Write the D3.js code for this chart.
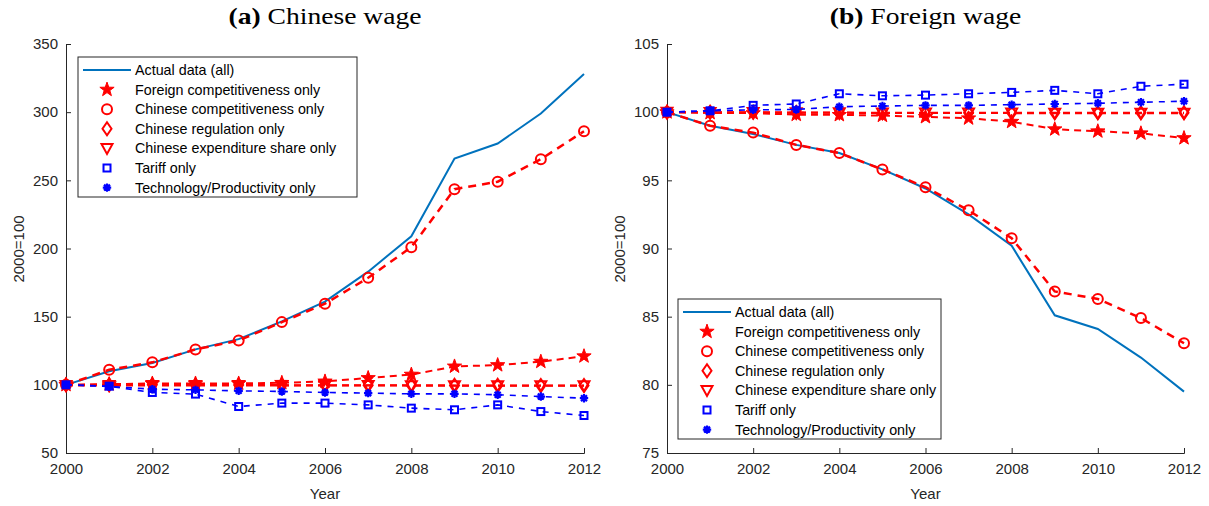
<!DOCTYPE html>
<html>
<head>
<meta charset="utf-8">
<script src="https://cdn.jsdelivr.net/npm/d3@7"></script>
<style>
  body { margin: 0; background: #fff; }
  svg { display: block; }
  .tick text { font-family: "Liberation Sans", Arial, sans-serif; font-size: 15px; fill: #262626; }
  .domain, .tick line { stroke: #262626; }
</style>
</head>
<body>
<div class="chart"></div>
<script>
// data
var years = [2000, 2001, 2002, 2003, 2004, 2005, 2006, 2007, 2008, 2009, 2010, 2011, 2012];
var labels = ["Actual data (all)", "Foreign competitiveness only", "Chinese competitiveness only",
  "Chinese regulation only", "Chinese expenditure share only", "Tariff only", "Technology/Productivity only"];

// (a) Chinese wage
var cnActual   = [100, 110, 116, 126, 133.5, 146.5, 161, 183, 209, 266, 277, 299, 328];
var cnForeign  = [100, 100.5, 101, 101, 101, 101.5, 102.5, 105, 107.5, 113.5, 114.5, 117, 121];
var cnChComp   = [100, 111, 116.5, 126, 132.5, 146, 159.5, 178.5, 201, 243.5, 249, 265.5, 286];
var cnReg      = [100, 100, 100, 99.8, 99.8, 99.8, 99.7, 99.7, 99.7, 99.6, 99.6, 99.5, 99.5];
var cnExp      = [99.5, 99.5, 99.5, 99.5, 99.5, 99.5, 99.5, 99.5, 99.4, 99.4, 99.4, 99.3, 99.3];
var cnTariff   = [100, 99, 94.4, 93.2, 84.1, 86.6, 86.6, 85.3, 82.9, 81.7, 85.3, 80.4, 77.5];
var cnTech     = [100, 98.8, 96.8, 96.3, 95.6, 95.1, 94.4, 93.9, 93.4, 93.4, 92.7, 91.4, 90.2];

// (b) Foreign wage
var fwActual   = [100, 99.0, 98.4, 97.6, 97.0, 95.8, 94.4, 92.5, 90.2, 85.1, 84.1, 82.0, 79.5];
var fwForeign  = [100, 99.95, 99.93, 99.82, 99.8, 99.75, 99.65, 99.55, 99.3, 98.75, 98.6, 98.45, 98.1];
var fwChComp   = [100, 99.0, 98.5, 97.6, 97.0, 95.8, 94.5, 92.8, 90.75, 86.85, 86.3, 84.9, 83.05];
var fwReg      = [100, 100, 100, 99.98, 99.97, 99.96, 99.95, 99.95, 99.95, 99.95, 99.95, 99.95, 99.95];
var fwExp      = [100, 99.98, 99.97, 99.96, 99.95, 99.94, 99.93, 99.93, 99.93, 99.92, 99.92, 99.92, 99.92];
var fwTariff   = [100, 100.1, 100.5, 100.6, 101.35, 101.2, 101.25, 101.35, 101.45, 101.6, 101.35, 101.9, 102.05];
var fwTech     = [100, 100.1, 100.17, 100.2, 100.4, 100.45, 100.5, 100.5, 100.55, 100.6, 100.65, 100.73, 100.8];

var xTicks = [2000, 2002, 2004, 2006, 2008, 2010, 2012];
var cnTicks = [50, 100, 150, 200, 250, 300, 350];
var fwTicks = [75, 80, 85, 90, 95, 100, 105];

var RED = "#ff0000", BLUE = "#0000ff", MBLUE = "#0072bd";

var svg = d3.select(".chart").append("svg")
  .attr("width", 1209)
  .attr("height", 506);

// marker shapes
function starPath(r) {
  var p = [];
  for (var i = 0; i < 10; i++) {
    var rr = i % 2 === 0 ? r : r * 0.4;
    var a = -Math.PI / 2 + i * Math.PI / 5;
    p.push([rr * Math.cos(a), rr * Math.sin(a)]);
  }
  return "M" + p.join("L") + "Z";
}
function drawMarker(g, type, x, y) {
  if (type === "star") {
    g.append("path").attr("d", starPath(7.5)).attr("transform", `translate(${x},${y})`)
      .attr("fill", RED).attr("stroke", RED).attr("stroke-width", 1);
  } else if (type === "circle") {
    g.append("circle").attr("cx", x).attr("cy", y).attr("r", 5)
      .attr("fill", "none").attr("stroke", RED).attr("stroke-width", 2);
  } else if (type === "diamond") {
    g.append("path").attr("d", "M0,-6.5L4.5,0L0,6.5L-4.5,0Z").attr("transform", `translate(${x},${y})`)
      .attr("fill", "none").attr("stroke", RED).attr("stroke-width", 2);
  } else if (type === "tri") {
    g.append("path").attr("d", "M-5.5,-4.5L5.5,-4.5L0,5.5Z").attr("transform", `translate(${x},${y})`)
      .attr("fill", "none").attr("stroke", RED).attr("stroke-width", 2);
  } else if (type === "square") {
    g.append("rect").attr("x", x - 3.5).attr("y", y - 3.5).attr("width", 7).attr("height", 7)
      .attr("fill", "none").attr("stroke", BLUE).attr("stroke-width", 2);
  } else if (type === "aster") {
    var r = 4.2, d = r * 0.707;
    g.append("path")
      .attr("d", `M${-r},0L${r},0M0,${-r}L0,${r}M${-d},${-d}L${d},${d}M${-d},${d}L${d},${-d}`)
      .attr("transform", `translate(${x},${y})`)
      .attr("fill", "none").attr("stroke", BLUE).attr("stroke-width", 2.2);
  }
}

function drawPanel(opt) {
  var x = d3.scaleLinear().domain([2000, 2012]).range([opt.left, opt.right]);
  var y = d3.scaleLinear().domain(opt.yDomain).range([453, 44]);

  var g = svg.append("g");

  // axes, MATLAB style with inward ticks
  g.append("g").attr("transform", "translate(0,453)")
    .call(d3.axisBottom(x).tickValues(xTicks).tickFormat(d3.format("d")).tickSizeInner(-5).tickSizeOuter(-5).tickPadding(10))
    .call(a => a.selectAll(".tick text").attr("dy", "0.71em"));
  g.append("g").attr("transform", `translate(${opt.left},0)`)
    .call(d3.axisLeft(y).tickValues(opt.yTicks).tickSizeInner(-5).tickSizeOuter(-5).tickPadding(8));

  g.append("text").attr("x", (opt.left + opt.right) / 2).attr("y", 499)
    .attr("text-anchor", "middle")
    .style("font-family", "Liberation Sans, Arial, sans-serif").style("font-size", "15px").attr("fill", "#262626")
    .text("Year");
  g.append("text").attr("transform", `translate(${opt.left - 42},249) rotate(-90)`)
    .attr("text-anchor", "middle")
    .style("font-family", "Liberation Sans, Arial, sans-serif").style("font-size", "15px").attr("fill", "#262626")
    .text("2000=100");

  // title, stretched a bit to look like the wider TeX serif
  var title = g.append("text")
    .attr("transform", `translate(${(opt.left + opt.right) / 2},24) scale(1.2,1)`)
    .attr("text-anchor", "middle")
    .style("font-family", "Liberation Serif, Times New Roman, serif").style("font-size", "23px").attr("fill", "#000");
  title.append("tspan").style("font-weight", "bold").text(opt.tag);
  title.append("tspan").text(" " + opt.title);

  var line = d3.line().x((d, i) => x(years[i])).y(d => y(d));

  var series = [
    { v: opt.s[0], color: MBLUE, w: 2, dash: null, m: null },
    { v: opt.s[1], color: RED, w: 2, dash: "7,5", m: "star" },
    { v: opt.s[2], color: RED, w: 2.5, dash: "8,6", m: "circle" },
    { v: opt.s[3], color: RED, w: 2, dash: "7,5", m: "diamond" },
    { v: opt.s[4], color: RED, w: 2, dash: "7,5", m: "tri" },
    { v: opt.s[5], color: BLUE, w: 1.6, dash: "6,6", m: "square" },
    { v: opt.s[6], color: BLUE, w: 1.6, dash: "6,6", m: "aster" }
  ];

  series.forEach(function(s) {
    g.append("path").datum(s.v).attr("d", line)
      .attr("fill", "none").attr("stroke", s.color).attr("stroke-width", s.w)
      .attr("stroke-dasharray", s.dash);
    if (s.m) {
      s.v.forEach(function(d, i) { drawMarker(g, s.m, x(years[i]), y(d)); });
    }
  });

  // legend
  var lg = g.append("g");
  lg.append("rect").attr("x", opt.lx).attr("y", opt.ly).attr("width", opt.lw).attr("height", 140)
    .attr("fill", "#fff").attr("stroke", "#262626").attr("stroke-width", 1);
  series.forEach(function(s, i) {
    var yy = opt.ly + 13 + i * 19.6;
    if (s.m) {
      drawMarker(lg, s.m, opt.lx + 29, yy);
    } else {
      lg.append("line").attr("x1", opt.lx + 5).attr("x2", opt.lx + 53).attr("y1", yy).attr("y2", yy)
        .attr("stroke", s.color).attr("stroke-width", 2);
    }
    lg.append("text").attr("x", opt.lx + 57).attr("y", yy).attr("dy", "0.35em")
      .style("font-family", "Liberation Sans, Arial, sans-serif").style("font-size", "14.3px").attr("fill", "#000")
      .text(labels[i]);
  });
}

drawPanel({
  left: 66, right: 584, yDomain: [50, 350], yTicks: cnTicks,
  tag: "(a)", title: "Chinese wage",
  s: [cnActual, cnForeign, cnChComp, cnReg, cnExp, cnTariff, cnTech],
  lx: 78, ly: 57, lw: 279
});

drawPanel({
  left: 667, right: 1184, yDomain: [75, 105], yTicks: fwTicks,
  tag: "(b)", title: "Foreign wage",
  s: [fwActual, fwForeign, fwChComp, fwReg, fwExp, fwTariff, fwTech],
  lx: 678, ly: 299, lw: 263
});
</script>
</body>
</html>
